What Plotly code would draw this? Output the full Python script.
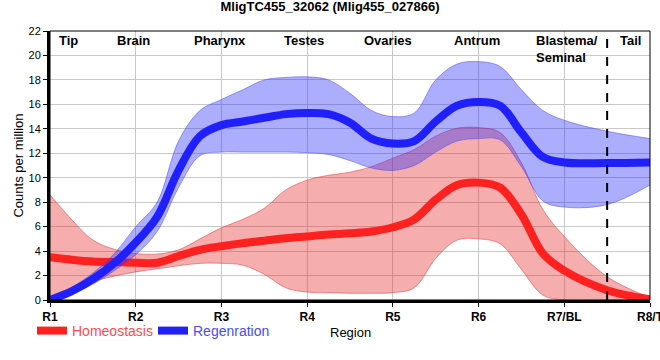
import plotly.graph_objects as go

# ---- data ----
xs = [1, 1.25, 1.5, 1.75, 2, 2.25, 2.5, 2.75, 3, 3.25, 3.5, 3.75, 4, 4.25, 4.5,
      4.75, 5, 5.25, 5.5, 5.75, 6, 6.25, 6.5, 6.75, 7, 7.5, 8]

homeo_mean = [3.5, 3.3, 3.15, 3.1, 3.05, 3.05, 3.6, 4.1, 4.4, 4.65, 4.85, 5.05, 5.2, 5.35, 5.45,
              5.6, 5.95, 6.6, 8.2, 9.4, 9.6, 9.2, 7.0, 3.8, 2.4, 0.8, 0.05]
homeo_upper = [8.6, 6.6, 4.9, 4.15, 3.8, 3.75, 4.1, 5.0, 5.9, 6.6, 7.5, 9.0, 9.8, 10.2, 10.45,
               10.9, 11.6, 12.3, 13.4, 14.05, 14.1, 13.7, 11.2, 7.4, 5.2, 1.9, 0.2]
homeo_lower = [0, 0.8, 1.5, 1.95, 2.3, 2.55, 2.8, 3.0, 3.0, 2.85, 2.1, 1.0, 0.65, 0.6, 0.55,
               0.55, 0.6, 1.0, 3.4, 4.9, 5.0, 4.6, 2.5, 0.4, 0, 0, 0]

regen_mean = [0, 0.7, 1.7, 3.0, 4.7, 6.8, 10.6, 13.4, 14.3, 14.6, 14.9, 15.2, 15.3, 15.2, 14.5,
              13.2, 12.8, 13.0, 14.6, 15.9, 16.2, 15.9, 13.7, 11.7, 11.25, 11.2, 11.25]
regen_upper = [0.1, 1.0, 2.2, 3.8, 6.0, 8.0, 13.0, 15.5, 16.4, 17.2, 18.0, 18.2, 18.25, 18.0, 16.9,
               15.5, 15.0, 15.3, 18.0, 19.3, 19.5, 19.1, 17.2, 15.5, 14.7, 13.8, 13.2]
regen_lower = [0, 0.5, 1.3, 2.4, 3.7, 5.6, 9.2, 11.8, 12.1, 12.1, 12.1, 12.1, 12.05, 11.9, 11.4,
               10.8, 10.6, 11.0, 12.1, 13.0, 13.2, 13.1, 10.9, 8.1, 7.6, 7.8, 9.4]

tick_vals = [1, 2, 3, 4, 5, 6, 7, 8]
tick_text = ["R1", "R2", "R3", "R4", "R5", "R6", "R7/BL", "R8/T"]

region_x = [1.21, 1.97, 2.98, 3.96, 4.94, 5.98, 6.65, 7.77]
region_names = ["Tip", "Brain", "Pharynx", "Testes", "Ovaries", "Antrum", "Blastema/<br>Seminal", "Tail"]
region_anchor = ["center", "center", "center", "center", "center", "center", "left", "center"]

boundary_x = 7.5

FONT = "Liberation Sans, Arial, sans-serif"

fig = go.Figure()

# Homeostasis band
fig.add_trace(go.Scatter(x=xs, y=homeo_upper, mode="lines",
                         line=dict(shape="spline", color="rgba(225,60,60,0.55)", width=1),
                         showlegend=False, hoverinfo="skip"))
fig.add_trace(go.Scatter(x=xs, y=homeo_lower, mode="lines", fill="tonexty",
                         fillcolor="rgba(230,40,40,0.38)",
                         line=dict(shape="spline", color="rgba(225,60,60,0.55)", width=1),
                         showlegend=False, hoverinfo="skip"))
# Homeostasis mean
fig.add_trace(go.Scatter(x=xs, y=homeo_mean, mode="lines",
                         line=dict(shape="spline", color="#ff2020", width=8),
                         name='<span style="color:#ff4a4a">Homeostasis</span>', legend="legend"))
# Regeneration band
fig.add_trace(go.Scatter(x=xs, y=regen_upper, mode="lines",
                         line=dict(shape="spline", color="rgba(80,80,240,0.55)", width=1),
                         showlegend=False, hoverinfo="skip"))
fig.add_trace(go.Scatter(x=xs, y=regen_lower, mode="lines", fill="tonexty",
                         fillcolor="rgba(40,40,250,0.38)",
                         line=dict(shape="spline", color="rgba(80,80,240,0.55)", width=1),
                         showlegend=False, hoverinfo="skip"))
# Regeneration mean
fig.add_trace(go.Scatter(x=xs, y=regen_mean, mode="lines",
                         line=dict(shape="spline", color="#2020ff", width=8),
                         name='<span style="color:#4a4aff">Regenration</span>', legend="legend2"))

annotations = []
for rx, rn, ra in zip(region_x, region_names, region_anchor):
    annotations.append(dict(x=rx, y=1.0, xref="x", yref="paper", text="<b>%s</b>" % rn,
                            showarrow=False, xanchor=ra, yanchor="top", align="left",
                            yshift=0, font=dict(family=FONT, size=13, color="black")))
# x-axis title
annotations.append(dict(x=0.5, y=-32 / 269, xref="paper", yref="paper", text="Region",
                        showarrow=False, xanchor="center", yanchor="middle",
                        font=dict(family=FONT, size=13, color="black")))

shapes = [
    dict(type="line", x0=boundary_x, x1=boundary_x, y0=0, y1=1, xref="x", yref="paper",
         line=dict(color="black", width=2, dash="dash")),
    dict(type="rect", x0=0, x1=1, y0=0, y1=1, xref="paper", yref="paper",
         line=dict(color="black", width=1)),
]

legend_common = dict(orientation="h", xref="container", yref="container", xanchor="left",
                     y=1 - 331 / 360, yanchor="middle", font=dict(family=FONT, size=14),
                     itemwidth=30, bgcolor="rgba(0,0,0,0)")

fig.update_layout(
    width=660, height=360,
    margin=dict(l=50, r=10, t=31, b=60, autoexpand=False),
    paper_bgcolor="white", plot_bgcolor="white",
    title=dict(text="<b>MligTC455_32062 (Mlig455_027866)</b>", x=0.5, xref="container",
               y=0.995, yanchor="top", font=dict(family=FONT, size=13, color="black")),
    font=dict(family=FONT, size=11, color="black"),
    showlegend=True,
    legend=dict(x=32 / 660, **legend_common),
    legend2=dict(x=153 / 660, **legend_common),
    annotations=annotations,
    shapes=shapes,
    xaxis=dict(range=[1, 8], tickvals=tick_vals, ticktext=["<b>%s</b>" % t for t in tick_text],
               tickfont=dict(family=FONT, size=12, color="black"),
               ticklabeloverflow="allow",
               showgrid=True, gridcolor="#c8c8c8", gridwidth=1,
               showline=True, linecolor="black", linewidth=3,
               ticks="outside", ticklen=4, tickcolor="black",
               zeroline=False, automargin=False),
    yaxis=dict(range=[0, 22], dtick=2, tickfont=dict(family=FONT, size=11, color="black"),
               showgrid=True, gridcolor="#c8c8c8", gridwidth=1,
               showline=True, linecolor="black", linewidth=3,
               ticks="outside", ticklen=4, tickcolor="black",
               zeroline=False, automargin=True,
               title=dict(text="Counts per million", font=dict(family=FONT, size=13, color="black"),
                          standoff=2)),
)

fig.write_html("out.html", config={"displayModeBar": False},
               post_script="document.body.style.margin='0';")
